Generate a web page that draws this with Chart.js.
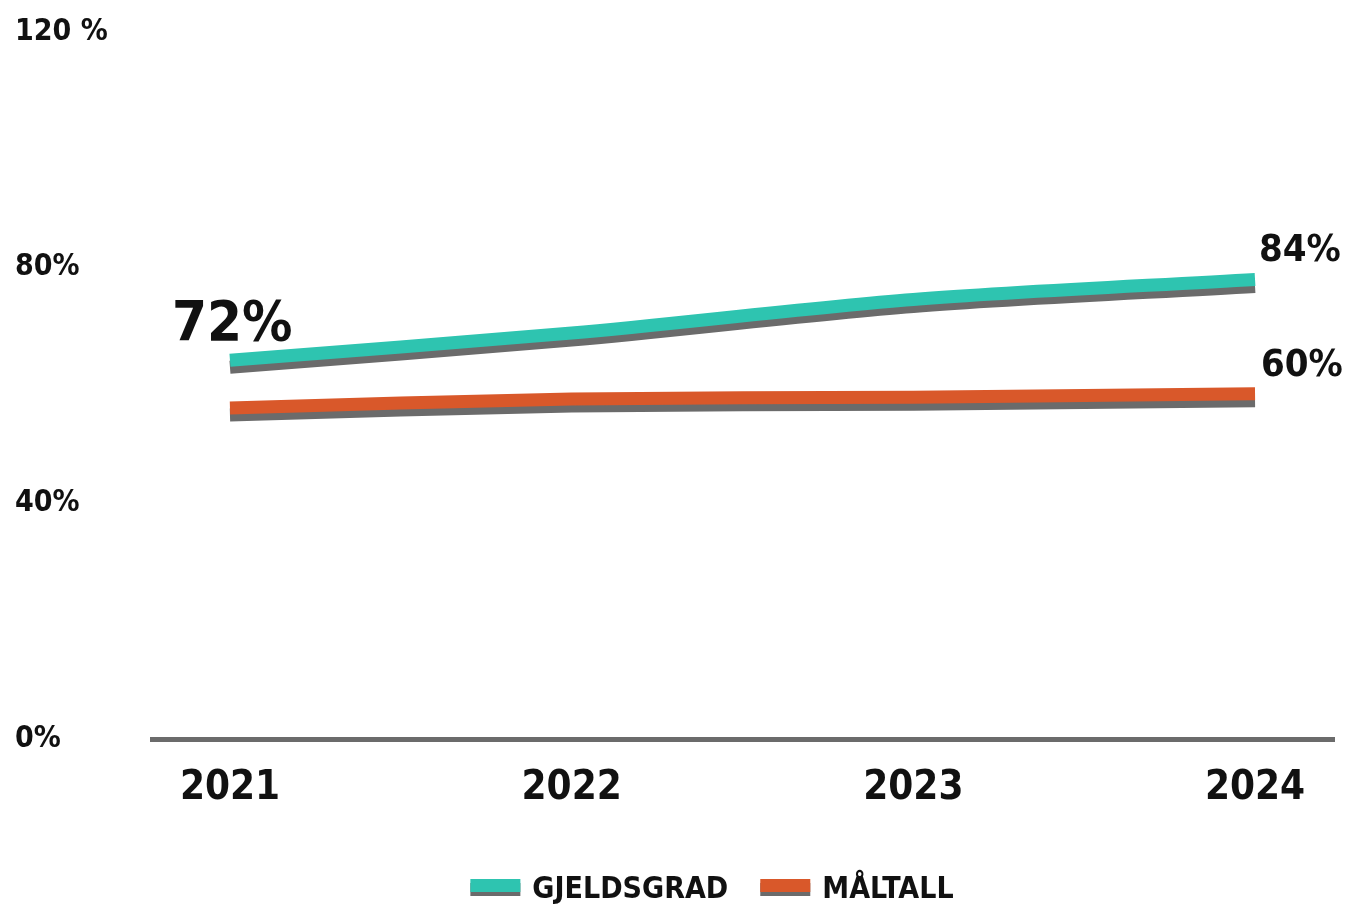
<!DOCTYPE html>
<html>
<head>
<meta charset="utf-8">
<script src="https://cdn.jsdelivr.net/npm/chart.js@4.4.1/dist/chart.umd.min.js"></script>
<style>
  html, body { margin: 0; padding: 0; background: #fff; }
  #wrap { width: 1349px; height: 916px; position: relative; }
</style>
</head>
<body>
<div id="wrap"><canvas id="chart"></canvas></div>
<script>
// values
const years = [2021, 2022, 2023, 2024];
const gjeldsgrad = [64.3, 68.9, 74.6, 78.0];
const maltall = [56.2, 57.7, 58.0, 58.6];
const gjeldLabels = ['72%', null, null, '84%'];
const maltLabels = [null, null, null, '60%'];
const yTicks = [0, 40, 80, 120];
const yTickLabels = ['0%', '40%', '80%', '120 %'];

const FONT = '"Liberation Sans Narrow", "DejaVu Sans Condensed", "Noto Sans", sans-serif';
const GREY = '#6b6b6b';

// grey "shadow" under each painted line
const shadowPlugin = {
  id: 'shadow',
  beforeDatasetDraw(chart) {
    const c = chart.ctx;
    c.save();
    c.shadowColor = GREY;
    c.shadowOffsetX = 0;
    c.shadowOffsetY = 7;
    c.shadowBlur = 0;
  },
  afterDatasetDraw(chart) {
    chart.ctx.restore();
  }
};

// value labels near the ends of the lines
const labelPlugin = {
  id: 'endLabels',
  afterDatasetsDraw(chart) {
    const c = chart.ctx;
    const styles = [
      [{dx: -58, dy: -20, size: 56}, null, null, {dx: 4, dy: -18, size: 38}],
      [null, null, null, {dx: 6, dy: -18, size: 38}]
    ];
    chart.data.datasets.forEach((ds, di) => {
      const meta = chart.getDatasetMeta(di);
      ds.pointLabels.forEach((txt, i) => {
        if (!txt) return;
        const st = styles[di][i];
        const p = meta.data[i];
        c.save();
        c.fillStyle = '#111';
        c.font = 'bold ' + st.size + 'px ' + FONT;
        c.textAlign = 'left';
        c.textBaseline = 'alphabetic';
        c.fillText(txt, p.x + st.dx, p.y + st.dy);
        c.restore();
      });
    });
  }
};

// legend drawn by hand so the swatches get the grey shadow too
const legendPlugin = {
  id: 'paintLegend',
  afterDraw(chart) {
    const c = chart.ctx;
    const cx = 712, cy = 888;
    c.save();
    c.font = 'bold 30px ' + FONT;
    c.textBaseline = 'middle';
    const items = chart.data.datasets.map(ds => ({
      text: ds.label, color: ds.borderColor, w: c.measureText(ds.label).width
    }));
    const sw = 50, gap = 12, itemGap = 32;
    let total = 0;
    items.forEach((it, i) => { total += sw + gap + it.w + (i ? itemGap : 0); });
    let x = cx - total / 2;
    items.forEach((it, i) => {
      if (i) x += itemGap;
      c.fillStyle = GREY;
      c.fillRect(x, cy - 5, sw, 13);
      c.fillStyle = it.color;
      c.fillRect(x, cy - 9, sw, 13);
      x += sw + gap;
      c.fillStyle = '#111';
      c.fillText(it.text, x, cy + 2);
      x += it.w;
    });
    c.restore();
  }
};

const ctx = document.getElementById('chart');
const mychart = new Chart(ctx, {
  type: 'line',
  data: {
    datasets: [
      {
        label: 'GJELDSGRAD',
        data: years.map((y, i) => ({x: y, y: gjeldsgrad[i]})),
        pointLabels: gjeldLabels,
        borderColor: '#2ec4b0',
        borderWidth: 13,
        borderCapStyle: 'butt',
        tension: 0.3,
        pointRadius: 0
      },
      {
        label: 'MÅLTALL',
        data: years.map((y, i) => ({x: y, y: maltall[i]})),
        pointLabels: maltLabels,
        borderColor: '#d9582a',
        borderWidth: 13,
        borderCapStyle: 'butt',
        tension: 0.3,
        pointRadius: 0
      }
    ]
  },
  options: {
    responsive: true,
    maintainAspectRatio: false,
    animation: false,
    layout: { padding: { left: 15, right: 14, top: 32, bottom: 85 } },
    plugins: {
      legend: { display: false },
      tooltip: { enabled: false }
    },
    scales: {
      x: {
        type: 'linear',
        min: 2020.766,
        max: 2024.234,
        afterBuildTicks: s => { s.ticks = years.map(v => ({value: v})); },
        border: { display: false },
        grid: { display: false },
        ticks: {
          callback: v => String(v),
          color: '#111',
          padding: 18,
          maxRotation: 0,
          font: { family: FONT, size: 40, weight: 'bold' }
        }
      },
      y: {
        min: 0,
        max: 120,
        afterBuildTicks: s => { s.ticks = yTicks.map(v => ({value: v})); },
        afterFit: s => { s.width = 135; },
        border: { display: false },
        grid: {
          drawTicks: false,
          color: c => c.tick && c.tick.value === 0 ? GREY : 'rgba(0,0,0,0)',
          lineWidth: c => c.tick && c.tick.value === 0 ? 5 : 0
        },
        ticks: {
          callback: v => yTickLabels[yTicks.indexOf(v)],
          crossAlign: 'far',
          color: '#111',
          font: { family: FONT, size: 30, weight: 'bold' }
        }
      }
    }
  },
  plugins: [shadowPlugin, labelPlugin, legendPlugin]
});
</script>
</body>
</html>
